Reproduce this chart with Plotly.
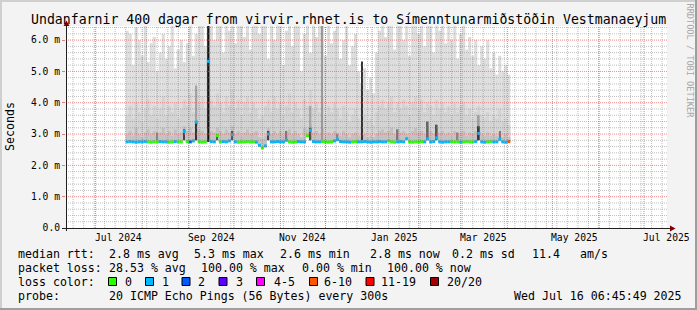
import plotly.graph_objects as go
import pandas as pd

W, H = 697, 310
L, R, T, B = 66, 30, 26, 82
PW, PH = W - L - R, H - T - B

# ---------------- data ----------------
x_start, x_end = "2024-06-11 06:45:49", "2025-07-16 06:45:49"
dates = pd.date_range("2024-07-21", periods=128, freq="2D")

smoke_max = [6.3, 6.2, 5.2, 6.4, 6.0, 5.5, 6.5, 5.3, 5.9, 6.1,
             5.0, 5.6, 6.2, 5.4, 5.8, 6.5, 5.1, 5.7, 6.0, 5.3,
             5.9, 6.5, 5.5, 6.2, 6.5, 6.5, 5.8, 6.5, 6.5, 6.0,
             6.5, 6.5, 5.6, 6.5, 6.3, 6.5, 5.9, 6.5, 6.5, 6.1,
             6.5, 5.7, 6.5, 6.5, 6.2, 6.5, 6.5, 5.4, 6.5, 6.0,
             6.5, 6.5, 5.2, 6.3, 6.5, 5.8, 6.5, 6.5, 5.0, 6.2,
             6.5, 5.6, 6.5, 6.1, 6.5, 6.5, 5.5, 6.5, 5.9, 6.3,
             6.5, 5.4, 6.0, 6.5, 5.2, 5.8, 6.2, 5.0, 4.6, 5.1,
             4.4, 4.8, 4.3, 5.6, 6.3, 6.5, 6.1, 6.5, 6.5, 5.7,
             6.5, 6.5, 6.0, 6.5, 5.5, 6.5, 6.5, 6.2, 6.5, 5.8,
             6.5, 6.5, 5.6, 6.5, 6.3, 6.5, 5.9, 6.5, 6.0, 6.5,
             5.4, 6.2, 6.5, 5.7, 6.1, 5.5, 6.0, 5.2, 5.8, 5.4,
             6.0, 5.1, 5.6, 4.9, 5.5, 5.0, 5.2, 4.9]

smoke_mid = [3.6, 3.9, 3.5, 4.0, 3.7, 3.4, 3.8, 4.1, 3.6, 3.9,
             3.5, 3.8, 4.2, 3.6, 3.9, 3.7, 4.0, 3.5, 3.8, 4.1,
             3.9, 4.3, 3.7, 4.4, 4.0, 4.2, 3.8, 4.5, 4.1, 3.9,
             4.3, 4.0, 3.7, 4.2, 3.9, 4.4, 3.8, 4.1, 3.6, 4.0,
             4.2, 3.7, 4.0, 3.8, 3.5, 3.6, 3.9, 4.1, 3.7, 4.2,
             3.8, 4.0, 3.6, 3.9, 4.3, 3.7, 4.0, 3.8, 3.5, 4.1,
             3.9, 4.4, 3.8, 4.0, 3.7, 4.2, 3.6, 3.9, 3.7, 4.0,
             3.8, 3.5, 3.9, 3.7, 3.4, 3.6, 3.8, 3.5, 3.3, 3.6,
             3.4, 3.5, 3.3, 3.7, 3.9, 4.1, 3.8, 4.0, 4.2, 3.7,
             4.0, 3.8, 4.1, 3.9, 3.6, 4.0, 4.2, 3.8, 4.1, 3.7,
             4.0, 3.9, 3.6, 4.1, 3.8, 4.0, 3.7, 3.9, 3.6, 4.0,
             3.7, 3.9, 4.0, 3.6, 3.8, 3.5, 3.7, 3.9, 3.6, 3.5,
             3.7, 3.4, 3.6, 3.5, 3.8, 3.4, 3.5, 3.3]

smoke_low = [3.0, 3.1, 2.95, 3.2, 3.0, 2.9, 3.05, 3.15, 3.0, 3.1,
             2.95, 3.05, 3.2, 3.0, 3.1, 2.95, 3.15, 3.0, 3.05, 3.25,
             3.1, 3.2, 3.05, 3.3, 3.15, 3.1, 3.0, 3.2, 3.1, 3.05,
             3.2, 3.1, 3.0, 3.15, 3.05, 3.25, 3.0, 3.1, 2.95, 3.05,
             3.15, 3.0, 3.05, 3.1, 2.9, 2.85, 2.95, 3.2, 3.0, 3.1,
             3.0, 3.1, 2.95, 3.05, 3.15, 3.0, 3.1, 3.0, 2.9, 3.2,
             3.15, 3.3, 3.05, 3.1, 3.0, 3.2, 2.95, 3.05, 3.0, 3.1,
             3.05, 2.95, 3.1, 3.0, 2.9, 3.0, 3.05, 2.95, 2.9, 3.0,
             2.9, 2.95, 2.9, 3.0, 3.1, 3.15, 3.05, 3.1, 3.2, 3.0,
             3.15, 3.05, 3.1, 3.0, 2.95, 3.1, 3.2, 3.05, 3.1, 3.0,
             3.25, 3.1, 3.0, 3.2, 3.05, 3.1, 3.0, 3.05, 2.95, 3.1,
             3.0, 3.05, 3.1, 2.95, 3.05, 3.0, 3.1, 3.2, 3.0, 2.95,
             3.05, 2.95, 3.0, 2.95, 3.05, 2.9, 3.0, 2.9]

median = [2.75, 2.76, 2.75, 2.74, 2.75, 2.75, 2.76, 2.75, 2.74, 2.75,
          2.75, 2.76, 2.75, 2.75, 2.74, 2.75, 2.76, 2.75, 2.75, 3.08,
          2.76, 2.75, 2.78, 3.38, 2.75, 2.74, 2.75, 5.32, 2.76, 2.75,
          2.95, 2.75, 2.76, 2.75, 2.78, 2.98, 2.75, 2.74, 2.75, 2.75,
          2.76, 2.75, 2.75, 2.74, 2.64, 2.56, 2.62, 3.00, 2.75, 2.75,
          2.76, 2.75, 2.75, 2.80, 2.75, 2.74, 2.75, 2.76, 2.75, 2.75,
          2.95, 3.12, 2.76, 2.75, 2.75, 2.76, 2.75, 2.74, 2.75, 2.78,
          2.82, 2.76, 2.75, 2.75, 2.74, 2.75, 2.76, 2.75, 2.75, 2.76,
          2.75, 2.74, 2.75, 2.75, 2.76, 2.75, 2.75, 2.78, 2.75, 2.74,
          2.75, 2.76, 2.75, 2.85, 2.75, 2.74, 2.75, 2.75, 2.76, 2.75,
          2.85, 2.75, 2.76, 2.88, 2.75, 2.74, 2.75, 2.75, 2.76, 2.75,
          2.75, 2.74, 2.75, 2.76, 2.75, 2.75, 2.76, 3.02, 2.75, 2.74,
          2.75, 2.76, 2.75, 2.75, 2.83, 2.75, 2.74, 2.76]

loss = [1, 1, 1, 1, 1, 1, 1, 0, 0, 0,
        0, 1, 1, 1, 0, 0, 1, 0, 0, 1,
        0, 2, 1, 1, 0, 0, 0, 1, 1, 1,
        0, 0, 1, 1, 1, 1, 1, 0, 0, 0,
        0, 0, 0, 1, 1, 0, 1, 1, 1, 1,
        1, 1, 1, 1, 0, 0, 0, 1, 1, 1,
        0, 1, 1, 1, 1, 0, 0, 0, 0, 1,
        1, 1, 1, 1, 1, 0, 0, 1, 1, 1,
        1, 1, 1, 1, 1, 1, 1, 0, 0, 0,
        1, 1, 1, 1, 0, 0, 0, 0, 0, 1,
        1, 1, 1, 1, 1, 1, 1, 1, 0, 0,
        0, 1, 0, 0, 0, 0, 1, 1, 1, 1,
        0, 0, 1, 1, 1, 1, 1, 7]

# dark smoke columns: index into dates, low / high values
spike_idx = [27, 23, 23, 19, 61, 61, 65, 78, 117, 117, 100, 103, 35, 47, 30, 10, 53, 70, 90, 110, 124]
spike_lo = [2.75, 2.80, 2.80, 2.80, 2.80, 2.80, 2.80, 2.80, 2.80, 2.80, 2.80, 2.80, 2.80, 2.80, 2.80,
            2.80, 2.80, 2.80, 2.80, 2.80, 2.80]
spike_hi = [6.60, 4.55, 3.40, 3.15, 3.90, 3.20, 6.60, 5.32, 3.60, 3.25, 3.40, 3.30, 3.10, 3.10, 3.00,
            3.05, 3.10, 3.00, 3.15, 3.05, 3.10]
# styles for those columns
spike_col = ["#111111", "#a2a2a2", "#333333", "#444444", "#a8a8a8", "#505050", "#9a9a9a",
             "#333333", "#a0a0a0", "#3a3a3a", "#666666", "#555555", "#555555", "#444444", "#555555",
             "#888888", "#7a7a7a", "#888888", "#7a7a7a", "#888888", "#7a7a7a"]
spike_wd = [1.5, 1.2, 1.2, 1.2, 1.2, 1.2, 0.7, 0.7, 1.2, 1.2, 1.2, 1.2, 1.2, 1.2, 1.2,
            1.0, 1.0, 1.0, 1.0, 1.0, 1.0]

loss_labels = ["0", "1", "2", "3", "4-5", "6-10", "11-19", "20/20"]
loss_colors = ["#26ff00", "#00b8ff", "#0059ff", "#5e00ff", "#ff00ff", "#ff5500", "#ff0000", "#a10000"]

y_tickvals = [0, 1, 2, 3, 4, 5, 6]
y_ticktext = ["0.0", "1.0 m", "2.0 m", "3.0 m", "4.0 m", "5.0 m", "6.0 m"]
x_labels = ["Jul 2024", "Sep 2024", "Nov 2024", "Jan 2025", "Mar 2025", "May 2025", "Jul 2025"]
x_label_dates = ["2024-07-16", "2024-09-16", "2024-11-16", "2025-01-16", "2025-03-16", "2025-05-16", "2025-07-16"]

title = "Undanfarnir 400 dagar from virvir.rhnet.is to Símenntunarmiðstöðin Vestmanaeyjum"
row_median = ["median rtt:", "2.8 ms avg", "5.3 ms max", "2.6 ms min", "2.8 ms now", "0.2 ms sd", "11.4", "am/s"]
row_loss = ["packet loss:", "28.53 % avg", "100.00 % max", "0.00 % min", "100.00 % now"]
row_probe = ["probe:", "20 ICMP Echo Pings (56 Bytes) every 300s", "Wed Jul 16 06:45:49 2025"]

# ---------------- helpers ----------------
DAY = 86400000
FONT = "DejaVu Sans Mono"


def px(x):
    return (x - L) / PW


def py(y):
    return (H - B - y) / PH


def bucket(n):
    if n <= 3:
        return n
    if n <= 5:
        return 4
    if n <= 10:
        return 5
    if n <= 19:
        return 6
    return 7


centers = [d + pd.Timedelta(days=1) for d in dates]

fig = go.Figure()

for vals, col in [(smoke_max, "#dddddd"), (smoke_mid, "#d3d3d3"), (smoke_low, "#c2c2c2")]:
    fig.add_trace(go.Bar(x=centers, y=[v - m for v, m in zip(vals, median)], base=median,
                         width=2.05 * DAY, marker=dict(color=col, line=dict(width=0)),
                         hoverinfo="skip", showlegend=False))

for i, lo, hi, col, wd in zip(spike_idx, spike_lo, spike_hi, spike_col, spike_wd):
    fig.add_trace(go.Bar(x=[centers[i]], y=[hi - lo], base=[lo], width=wd * DAY,
                         marker=dict(color=col, line=dict(width=0)), hoverinfo="skip", showlegend=False))

# median line coloured by loss
ends = list(dates) + [dates[-1] + pd.Timedelta(days=2)]
for b in range(8):
    xs, ys = [], []
    for i, (m, lo) in enumerate(zip(median, loss)):
        if bucket(lo) == b:
            xs += [ends[i], ends[i + 1], None]
            ys += [m, m, None]
    if xs:
        fig.add_trace(go.Scatter(x=xs, y=ys, mode="lines", line=dict(color=loss_colors[b], width=3),
                                 hoverinfo="skip", showlegend=False))

shapes = []
# grid (drawn above the smoke like rrdtool)
for d in pd.date_range("2024-06-16", "2025-07-16", freq="7D"):
    shapes.append(dict(type="line", xref="x", yref="paper", x0=d, x1=d, y0=0, y1=1,
                       line=dict(color="rgba(125,125,125,0.5)", width=1, dash="1px,1px")))
for k in range(1, 33):
    v = round(k * 0.2, 1)
    if abs(v - round(v)) > 1e-6:
        shapes.append(dict(type="line", xref="paper", yref="y", x0=0, x1=1, y0=v, y1=v,
                           line=dict(color="rgba(130,130,130,0.5)", width=1, dash="1px,1px")))
for d in pd.date_range("2024-07-01", "2025-07-01", freq="MS"):
    shapes.append(dict(type="line", xref="x", yref="paper", x0=d, x1=d, y0=0, y1=1,
                       line=dict(color="rgba(235,80,80,0.75)", width=1, dash="1px,1px")))
for v in y_tickvals[1:]:
    shapes.append(dict(type="line", xref="paper", yref="y", x0=0, x1=1, y0=v, y1=v,
                       line=dict(color="rgba(235,90,90,0.7)", width=1, dash="1px,1px")))

# axes with arrows
AX = "#202020"
ARR = "#800000"
shapes.append(dict(type="line", xref="paper", yref="paper", x0=px(62), x1=px(671), y0=py(228.5), y1=py(228.5),
                   line=dict(color=AX, width=1)))
shapes.append(dict(type="line", xref="paper", yref="paper", x0=px(66.5), x1=px(66.5), y0=py(231), y1=py(25),
                   line=dict(color=AX, width=1)))
shapes.append(dict(type="path", xref="paper", yref="paper",
                   path=f"M {px(670)},{py(225.5)} L {px(675.5)},{py(228.5)} L {px(670)},{py(231.5)} Z",
                   fillcolor=ARR, line=dict(width=0)))
shapes.append(dict(type="path", xref="paper", yref="paper",
                   path=f"M {px(63.5)},{py(26)} L {px(66.5)},{py(20.5)} L {px(69.5)},{py(26)} Z",
                   fillcolor=ARR, line=dict(width=0)))


def prect(x0, y0, x1, y1, color, lw=0, lc="#000"):
    return dict(type="rect", xref="paper", yref="paper", x0=px(x0), x1=px(x1), y0=py(y1), y1=py(y0),
                fillcolor=color, line=dict(width=lw, color=lc))


# 3D frame
shapes.append(prect(0, 0, W, 2, "#cfcfcf"))
shapes.append(prect(0, 0, 2, H, "#cfcfcf"))
shapes.append(prect(0, H - 2, W, H, "#9e9e9e"))
shapes.append(prect(W - 2, 0, W, H, "#9e9e9e"))

# legend colour boxes
box_x = [108.5, 145.5, 182, 219, 256.5, 309.5, 366, 430.5]
lab_x = [124, 160.7, 197.3, 235, 272.7, 322.7, 380, 446]
for bx, col in zip(box_x, loss_colors):
    shapes.append(prect(bx, 277.5, bx + 8, 285.5, col, lw=1, lc="#000000"))

ann = []


def txt(s, x, y, size=11.6, anchor="left", color="#000000", angle=0):
    return dict(text=s, x=px(x), y=py(y), xref="paper", yref="paper", xanchor=anchor, yanchor="middle",
                showarrow=False, textangle=angle, borderpad=0,
                font=dict(family=FONT, size=size, color=color))


ann.append(txt(title, 348, 19.5, size=13.2, anchor="center"))
ann.append(txt("Seconds", 10, 127, size=11.6, anchor="center", angle=-90))
ann.append(txt("RRDTOOL / TOBI OETIKER", 689.5, 61, size=8.6, anchor="center", color="#a8a8a8", angle=90))

for s, d in zip(x_labels, x_label_dates):
    ann.append(dict(text=s, x=d, y=py(237.5), xref="x", yref="paper", xanchor="center", yanchor="middle",
                    showarrow=False, borderpad=0, font=dict(family=FONT, size=9.7, color="#000")))

for s, x in zip(row_median, [16.7, 107.7, 193.3, 279.3, 369.3, 451, 530.7, 579.3]):
    ann.append(txt(s, x, 254))
for s, x in zip(row_loss, [16.7, 107.7, 200, 300.7, 386]):
    ann.append(txt(s, x, 268.3))
ann.append(txt("loss color:", 16.7, 281.7))
for s, x in zip(loss_labels, lab_x):
    ann.append(txt(s, x, 281.7))
for s, x in zip(row_probe, [16.7, 107.7, 512.7]):
    ann.append(txt(s, x, 296))

fig.update_layout(
    width=W, height=H,
    margin=dict(l=L, r=R, t=T, b=B, autoexpand=False),
    paper_bgcolor="#f3f3f3", plot_bgcolor="#ffffff",
    barmode="overlay", showlegend=False,
    shapes=shapes, annotations=ann,
    xaxis=dict(type="date", range=[x_start, x_end], showgrid=False, showticklabels=False,
               zeroline=False, showline=False, ticks="", fixedrange=True),
    yaxis=dict(range=[0, 6.45], tickvals=y_tickvals, ticktext=y_ticktext, showgrid=False,
               zeroline=False, showline=False, ticks="outside", ticklen=3, tickcolor="rgba(235,90,90,0.8)",
               tickfont=dict(family=FONT, size=9.7, color="#000"), fixedrange=True),
)

fig.write_html("out.html")
